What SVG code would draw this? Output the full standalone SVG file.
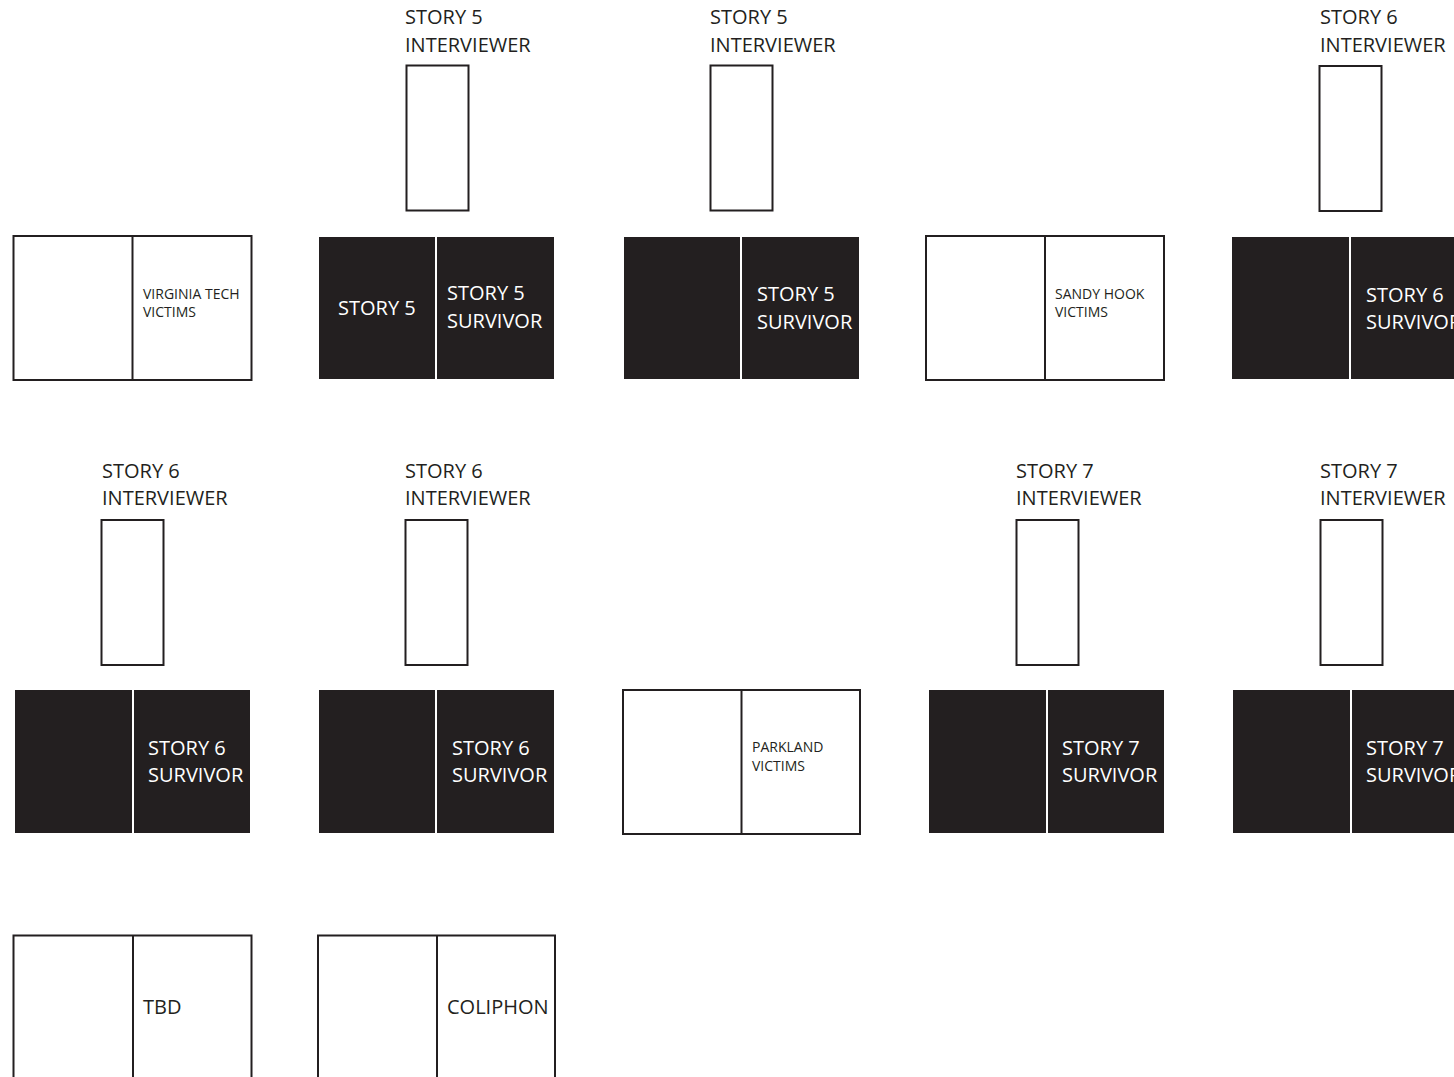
<svg xmlns="http://www.w3.org/2000/svg" width="1454" height="1077" viewBox="0 0 1454 1077">
<style>
  .bg{fill:#ffffff}
  .out{fill:#ffffff;stroke:#231f20;stroke-width:2}
  .blk{fill:#231f20}
  .ln{stroke:#231f20;stroke-width:2}
  .iv{fill:#ffffff;stroke:#231f20;stroke-width:2}
  .lbl{font-family:"Open Sans","Noto Sans",sans-serif;font-size:20px;fill:#231f20}
  .wt{font-family:"Open Sans","Noto Sans",sans-serif;font-size:20px;fill:#ffffff}
  .sm{font-family:"Open Sans","Noto Sans",sans-serif;font-size:14px;fill:#231f20}
</style>
<rect class="bg" x="0" y="0" width="1454" height="1077"/>

<!-- Row 1 -->
<g id="spread-virginia-tech">
  <rect class="out" x="13.5" y="236" width="238" height="144"/>
  <line class="ln" x1="132.5" y1="236" x2="132.5" y2="380"/>
  <text class="sm" x="143" y="299">VIRGINIA TECH</text>
  <text class="sm" x="143" y="317">VICTIMS</text>
</g>

<g id="interviewer-r1-2">
  <rect class="iv" x="406.5" y="65.5" width="62" height="145"/>
  <text class="lbl" x="405" y="24">STORY 5</text>
  <text class="lbl" x="405" y="52">INTERVIEWER</text>
</g>
<g id="spread-story5-a">
  <rect class="blk" x="319" y="237" width="116" height="142"/>
  <rect class="blk" x="437" y="237" width="117" height="142"/>
  <text class="wt" x="338" y="315">STORY 5</text>
  <text class="wt" x="447" y="300">STORY 5</text>
  <text class="wt" x="447" y="328">SURVIVOR</text>
</g>

<g id="interviewer-r1-3">
  <rect class="iv" x="710.5" y="65.5" width="62" height="145"/>
  <text class="lbl" x="710" y="24">STORY 5</text>
  <text class="lbl" x="710" y="52">INTERVIEWER</text>
</g>
<g id="spread-story5-b">
  <rect class="blk" x="624" y="237" width="116" height="142"/>
  <rect class="blk" x="742" y="237" width="117" height="142"/>
  <text class="wt" x="757" y="301">STORY 5</text>
  <text class="wt" x="757" y="329">SURVIVOR</text>
</g>

<g id="spread-sandy-hook">
  <rect class="out" x="926" y="236" width="238" height="144"/>
  <line class="ln" x1="1045" y1="236" x2="1045" y2="380"/>
  <text class="sm" x="1055" y="299">SANDY HOOK</text>
  <text class="sm" x="1055" y="317">VICTIMS</text>
</g>

<g id="interviewer-r1-5">
  <rect class="iv" x="1319.5" y="66" width="62" height="145"/>
  <text class="lbl" x="1320" y="24">STORY 6</text>
  <text class="lbl" x="1320" y="52">INTERVIEWER</text>
</g>
<g id="spread-story6-a">
  <rect class="blk" x="1232" y="237" width="117" height="142"/>
  <rect class="blk" x="1351" y="237" width="110" height="142"/>
  <text class="wt" x="1366" y="302">STORY 6</text>
  <text class="wt" x="1366" y="329">SURVIVOR</text>
</g>

<!-- Row 2 -->
<g id="interviewer-r2-1">
  <rect class="iv" x="101.5" y="520" width="62" height="145"/>
  <text class="lbl" x="102" y="478">STORY 6</text>
  <text class="lbl" x="102" y="505">INTERVIEWER</text>
</g>
<g id="spread-story6-b">
  <rect class="blk" x="15" y="690" width="117" height="143"/>
  <rect class="blk" x="134" y="690" width="116" height="143"/>
  <text class="wt" x="148" y="755">STORY 6</text>
  <text class="wt" x="148" y="782">SURVIVOR</text>
</g>

<g id="interviewer-r2-2">
  <rect class="iv" x="405.5" y="520" width="62" height="145"/>
  <text class="lbl" x="405" y="478">STORY 6</text>
  <text class="lbl" x="405" y="505">INTERVIEWER</text>
</g>
<g id="spread-story6-c">
  <rect class="blk" x="319" y="690" width="116" height="143"/>
  <rect class="blk" x="437" y="690" width="117" height="143"/>
  <text class="wt" x="452" y="755">STORY 6</text>
  <text class="wt" x="452" y="782">SURVIVOR</text>
</g>

<g id="spread-parkland">
  <rect class="out" x="623" y="690" width="237" height="144"/>
  <line class="ln" x1="741.5" y1="690" x2="741.5" y2="834"/>
  <text class="sm" x="752" y="752">PARKLAND</text>
  <text class="sm" x="752" y="771">VICTIMS</text>
</g>

<g id="interviewer-r2-4">
  <rect class="iv" x="1016.5" y="520" width="62" height="145"/>
  <text class="lbl" x="1016" y="478">STORY 7</text>
  <text class="lbl" x="1016" y="505">INTERVIEWER</text>
</g>
<g id="spread-story7-a">
  <rect class="blk" x="929" y="690" width="117" height="143"/>
  <rect class="blk" x="1048" y="690" width="116" height="143"/>
  <text class="wt" x="1062" y="755">STORY 7</text>
  <text class="wt" x="1062" y="782">SURVIVOR</text>
</g>

<g id="interviewer-r2-5">
  <rect class="iv" x="1320.5" y="520" width="62" height="145"/>
  <text class="lbl" x="1320" y="478">STORY 7</text>
  <text class="lbl" x="1320" y="505">INTERVIEWER</text>
</g>
<g id="spread-story7-b">
  <rect class="blk" x="1233" y="690" width="117" height="143"/>
  <rect class="blk" x="1352" y="690" width="110" height="143"/>
  <text class="wt" x="1366" y="755">STORY 7</text>
  <text class="wt" x="1366" y="782">SURVIVOR</text>
</g>

<!-- Row 3 -->
<g id="spread-tbd">
  <rect class="out" x="13.5" y="935.5" width="238" height="160"/>
  <line class="ln" x1="133" y1="935.5" x2="133" y2="1077"/>
  <text class="lbl" x="143" y="1014">TBD</text>
</g>
<g id="spread-coliphon">
  <rect class="out" x="318" y="935.5" width="237" height="160"/>
  <line class="ln" x1="437" y1="935.5" x2="437" y2="1077"/>
  <text class="lbl" x="447" y="1014">COLIPHON</text>
</g>
</svg>
